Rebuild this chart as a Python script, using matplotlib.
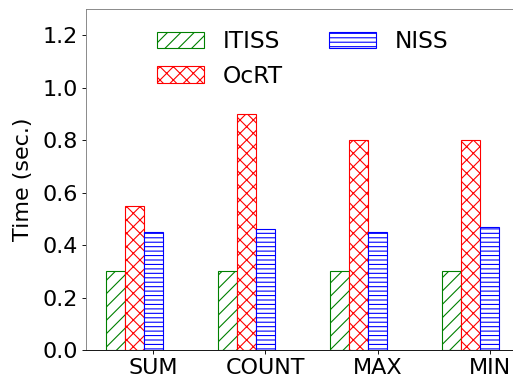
import numpy as np
import matplotlib
matplotlib.use("Agg")
import matplotlib.pyplot as plt

categories = ["SUM", "COUNT", "MAX", "MIN"]
itiss = [0.30, 0.30, 0.30, 0.30]
ocrt = [0.55, 0.90, 0.80, 0.80]
niss = [0.45, 0.46, 0.45, 0.47]

plt.rcParams["font.size"] = 20
plt.rcParams["hatch.linewidth"] = 1.0

fig = plt.figure(figsize=(513 / 80, 379 / 80), dpi=80)
ax = fig.add_axes([86 / 513, 1 - 350 / 379, 433 / 513, 341 / 379])

x = np.arange(len(categories))
w = 0.17
ax.bar(x, itiss, w, color="white", edgecolor="green", hatch="//", label="ITISS")
ax.bar(x + w, ocrt, w, color="white", edgecolor="red", hatch="xx", label="OcRT")
ax.bar(x + 2 * w, niss, w, color="white", edgecolor="blue", hatch="---", label="NISS")

ax.set_xticks(x + 2 * w)
ax.set_xticklabels(categories)
ax.set_ylim(0, 1.3)
ax.set_yticks([0.0, 0.2, 0.4, 0.6, 0.8, 1.0, 1.2])
ax.set_ylabel("Time (sec.)", labelpad=9)

ax.spines["left"].set_color("gray")
ax.spines["top"].set_color("gray")
ax.spines["right"].set_color("gray")
ax.spines["bottom"].set_color("black")

ax.legend(loc="upper center", ncol=2, frameon=False, fontsize=21)

fig.savefig("out.png", dpi=80)
